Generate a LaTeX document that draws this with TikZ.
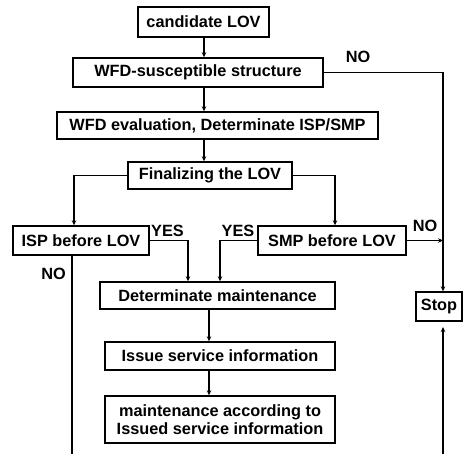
\documentclass[tikz,border=0pt]{standalone}
\usepackage{fontspec}
\setmainfont{Liberation Sans}
\usetikzlibrary{arrows.meta}
\begin{document}
\begin{tikzpicture}[x=1pt,y=-1pt,
  box/.style={draw, line width=1.4pt, inner sep=0pt, align=center,
    font=\bfseries\fontsize{16.3}{18.5}\selectfont},
  lbl/.style={inner sep=0pt, font=\bfseries\fontsize{16.3}{18.5}\selectfont},
  conn/.style={line width=1.2pt},
  arr/.style={conn, -{Stealth[length=5pt,width=4.5pt]}}]
\useasboundingbox (0,0) rectangle (463,454);
% boxes
\node[box, minimum width=131pt, minimum height=30pt] (cand) at (203.5,22) {candidate LOV};
\node[box, minimum width=250pt, minimum height=29pt] (wfd1) at (198,72.5) {WFD-susceptible structure};
\node[box, minimum width=321pt, minimum height=27pt] (wfd2) at (217.5,125.5) {WFD evaluation, Determinate ISP/SMP};
\node[box, minimum width=164pt, minimum height=27pt] (fin) at (210,175.5) {Finalizing the LOV};
\node[box, minimum width=136pt, minimum height=29pt] (isp) at (81,240.5) {ISP before LOV};
\node[box, minimum width=148pt, minimum height=29pt] (smp) at (332,240.5) {SMP before LOV};
\node[box, minimum width=235pt, minimum height=27pt] (dm) at (217.5,295.5) {Determinate maintenance};
\node[box, minimum width=230pt, minimum height=28pt] (isi) at (220,356) {Issue service information};
\node[box, minimum width=230pt, minimum height=47pt] (mai) at (220,419.5) {maintenance according to\\Issued service information};
\node[box, minimum width=46pt, minimum height=29pt] (stop) at (439,306.5) {Stop};
% labels
\node[lbl] (no1) at (358,57) {NO};
\node[lbl] (yes1) at (167.5,231) {YES};
\node[lbl] (yes2) at (238,231) {YES};
\node[lbl] (no2) at (425,226) {NO};
\node[lbl] (no3) at (53.5,274) {NO};
% helper coordinates
\coordinate (xa) at (204,0);
\coordinate (xb) at (209,0);
\coordinate (xl) at (74,0);
\coordinate (xrr) at (335,0);
\coordinate (xr) at (443,0);
\coordinate (ya) at (188,0);
\coordinate (yb) at (220,0);
\coordinate (bl) at (72,454);
\coordinate (br) at (443,454);
\coordinate (sb) at (443,327);
% connectors
\draw[arr] (cand.south -| xa) -- (wfd1.north -| xa);
\draw[arr] (wfd1.south -| xa) -- (wfd2.north -| xa);
\draw[arr] (wfd2.south -| xa) -- (fin.north -| xa);
\draw[arr] (fin.west) -| (isp.north -| xl);
\draw[arr] (fin.east) -| (smp.north -| xrr);
\draw[arr] (isp.east) -| (dm.north -| ya);
\draw[arr] (smp.west) -| (dm.north -| yb);
\draw[arr] (smp.east) -- (smp.east -| xr);
\draw[arr] (wfd1.east) -| (stop.north -| xr);
\draw[arr] (dm.south -| xb) -- (isi.north -| xb);
\draw[arr] (isi.south -| xb) -- (mai.north -| xb);
\draw[conn] (isp.south -| bl) -- (bl);
\draw[arr] (br) -- (sb);
\end{tikzpicture}
\end{document}
